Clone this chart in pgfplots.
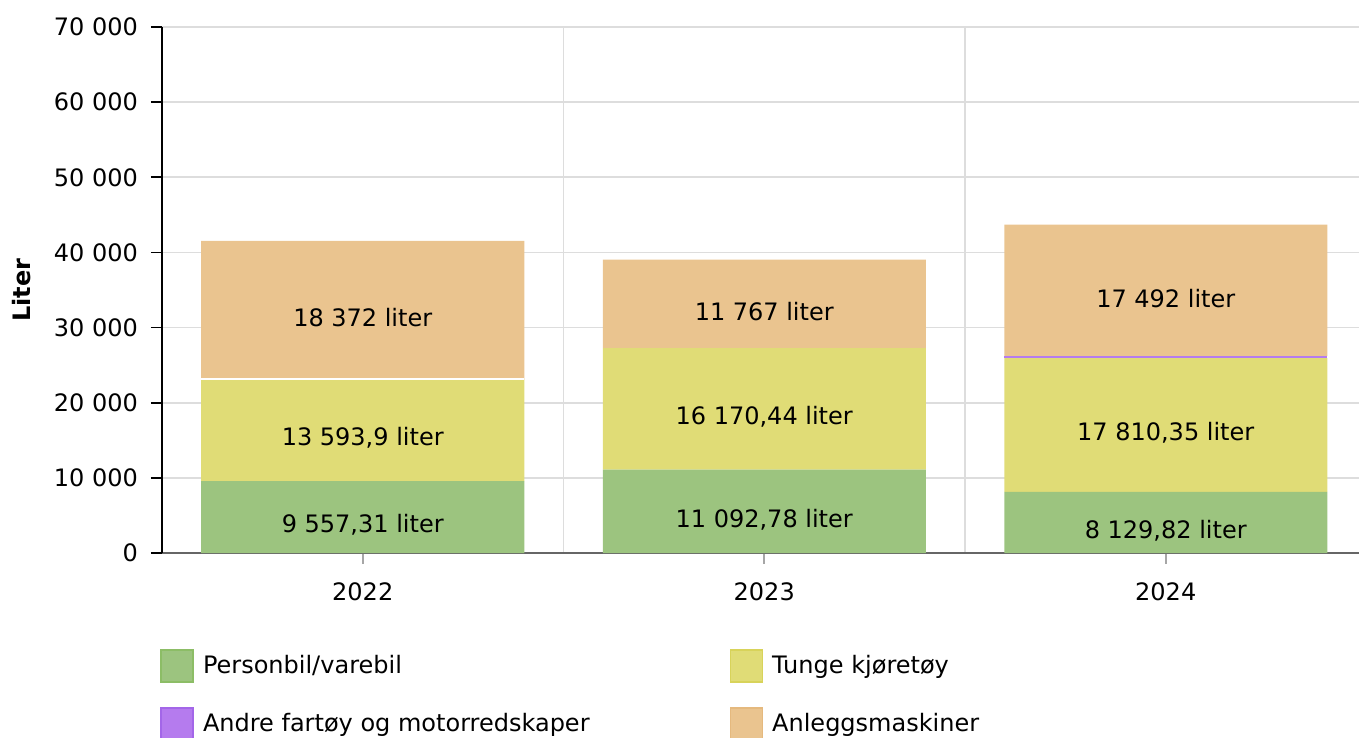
\documentclass[border=0pt]{standalone}
\usepackage{pgfplots}
\pgfplotsset{compat=1.18}
\usepackage{fontspec}
\setmainfont{DejaVu Sans}
\definecolor{cgreen}{HTML}{9CC47F}
\definecolor{cgreenE}{HTML}{8CBD66}
\definecolor{cyellow}{HTML}{E0DC76}
\definecolor{cyellowE}{HTML}{D8D35A}
\definecolor{cpurple}{HTML}{B57BEE}
\definecolor{cpurpleE}{HTML}{A366E8}
\definecolor{corange}{HTML}{EAC48F}
\definecolor{corangeE}{HTML}{E5B97E}
\definecolor{cgrid}{HTML}{DDDDDD}
\pgfplotsset{
  sq/.style={legend image code/.code={\draw[fill=#1, draw=#1E, line width=0.8pt] (1pt,-8pt) rectangle (17pt,8pt);}},
}
\begin{document}
\begin{tikzpicture}
\useasboundingbox (-81pt,-92.5pt) rectangle (598.5pt,276.5pt);
\begin{axis}[
  at={(0,0)}, anchor=south west,
  scale only axis, width=602.25pt, height=263pt,
  ybar stacked, bar width=161.5pt,
  xmin=-0.5, xmax=2.5, ymin=0, ymax=70000,
  xtick={0,1,2}, xticklabels={2022,2023,2024},
  minor xtick={0.5,1.5},
  ytick={0,10000,...,70000},
  axis x line*=bottom, axis y line*=left,
  x axis line style={draw=gray!80!black, line width=0.8pt, -},
  y axis line style={draw=black, line width=0.8pt, -},
  xtick style={draw=gray!70, line width=0.8pt},
  ytick style={draw=black, line width=0.8pt},
  tick align=outside, major tick length=5.5pt, minor tick length=0pt,
  ymajorgrids, xminorgrids,
  grid style={draw=cgrid, line width=0.9pt},
  minor grid style={draw=cgrid, line width=0.9pt},
  /pgf/number format/assume math mode=true,
  /pgf/number format/1000 sep={\ },
  scaled y ticks=false,
  yticklabel style={font=\fontsize{12}{14}\selectfont, xshift=-3pt},
  xticklabel style={font=\fontsize{12}{14}\selectfont, yshift=-6pt},
  ylabel={Liter},
  every axis y label/.style={at={(rel axis cs:0,0.5)}, rotate=90, anchor=center, yshift=70pt,
    font=\fontsize{12}{14}\selectfont\bfseries},
  legend columns=2,
  legend cell align=left,
  legend style={at={(0,0)}, anchor=north west, xshift=-4pt, yshift=-44.5pt, draw=none, fill=none,
    font=\fontsize{12}{14}\selectfont,
    nodes={inner sep=4.5pt},
    /tikz/every even column/.append style={column sep=65.5pt},
    row sep=9.5pt},
]
\addplot[fill=cgreen, draw=none, sq=cgreen] coordinates {(0,9557.31) (1,11092.78) (2,8129.82)};
\addlegendentry{Personbil/varebil}
\addplot[fill=cyellow, draw=none, sq=cyellow] coordinates {(0,13593.9) (1,16170.44) (2,17810.35)};
\addlegendentry{Tunge kjøretøy}
\addplot[fill=cpurple, draw=none, sq=cpurple] coordinates {(0,0) (1,0) (2,260)};
\addlegendentry{Andre fartøy og motorredskaper}
\addplot[fill=corange, draw=none, sq=corange] coordinates {(0,18372) (1,11767) (2,17492)};
\addlegendentry{Anleggsmaskiner}
\coordinate (wa) at (axis cs:-0.4022,23151.21);
\coordinate (wb) at (axis cs:0.4022,23151.21);
\coordinate (a1) at (axis cs:0,4778.7);
\coordinate (a2) at (axis cs:0,16354.3);
\coordinate (a3) at (axis cs:0,32337.2);
\coordinate (b1) at (axis cs:1,5546.4);
\coordinate (b2) at (axis cs:1,19178.0);
\coordinate (b3) at (axis cs:1,33146.7);
\coordinate (c1) at (axis cs:2,4064.9);
\coordinate (c2) at (axis cs:2,17035.0);
\coordinate (c3) at (axis cs:2,34916.2);
\end{axis}
\draw[white, line width=0.6pt] (wa) -- (wb);
\begin{scope}[every node/.style={anchor=center, yshift=-4pt, font=\fontsize{12}{14}\selectfont}]
\node at (a1) {9 557,31 liter};
\node at (a2) {13 593,9 liter};
\node at (a3) {18 372 liter};
\node at (b1) {11 092,78 liter};
\node at (b2) {16 170,44 liter};
\node at (b3) {11 767 liter};
\node at (c1) {8 129,82 liter};
\node at (c2) {17 810,35 liter};
\node at (c3) {17 492 liter};
\end{scope}
\end{tikzpicture}
\end{document}
